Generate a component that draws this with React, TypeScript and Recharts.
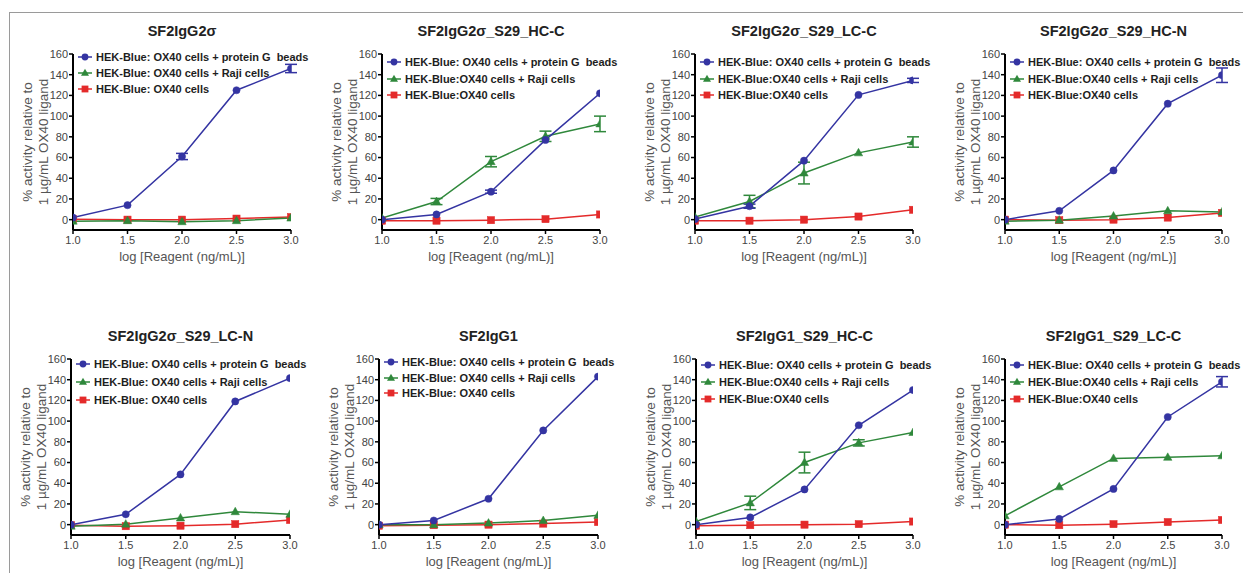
import React from 'react';
import { LineChart, Line, XAxis, YAxis, ErrorBar, Legend } from 'recharts';

const FONT = '"Liberation Sans", Arial, Helvetica, sans-serif';

const BLUE = '#3434a2';
const GREEN = '#2f883b';
const RED = '#e42a2a';

const X_VALUES = [1.0, 1.5, 2.0, 2.5, 3.0];
const X_TICKS = [1.0, 1.5, 2.0, 2.5, 3.0];
const Y_TICKS = [0, 20, 40, 60, 80, 100, 120, 140, 160];

const TITLES = [
  'SF2IgG2σ',
  'SF2IgG2σ_S29_HC-C',
  'SF2IgG2σ_S29_LC-C',
  'SF2IgG2σ_S29_HC-N',
  'SF2IgG2σ_S29_LC-N',
  'SF2IgG1',
  'SF2IgG1_S29_HC-C',
  'SF2IgG1_S29_LC-C',
];

const LABEL_BEADS = 'HEK-Blue: OX40 cells + protein G  beads';
const LABEL_RAJI_SPACED = 'HEK-Blue: OX40 cells + Raji cells';
const LABEL_RAJI_TIGHT = 'HEK-Blue:OX40 cells + Raji cells';
const LABEL_CELLS_SPACED = 'HEK-Blue: OX40 cells';
const LABEL_CELLS_TIGHT = 'HEK-Blue:OX40 cells';

// Panel 1: SF2IgG2σ
const p1Beads = [2, 14, 61, 125, 146];
const p1BeadsErr = [0, 0, 3, 0, 4];
const p1Raji = [-1.5, -1, -2, -1, 1.5];
const p1RajiErr = [0, 0, 0, 0, 0];
const p1Cells = [0.5, 0, 0, 1, 2.5];

// Panel 2: SF2IgG2σ_S29_HC-C
const p2Beads = [0, 5, 27, 77, 122];
const p2BeadsErr = [0, 0, 1.5, 0, 0];
const p2Raji = [1.5, 17.5, 56, 80.5, 92.5];
const p2RajiErr = [0, 3, 5, 5, 7.5];
const p2Cells = [-1, -1, -0.5, 0.5, 5];

// Panel 3: SF2IgG2σ_S29_LC-C
const p3Beads = [0.5, 13, 57, 120.5, 134.5];
const p3BeadsErr = [0, 2, 0, 0, 2];
const p3Raji = [2.5, 17.5, 45, 64.5, 75];
const p3RajiErr = [0, 6, 10.5, 0, 5];
const p3Cells = [-1, -1, 0, 3, 9.5];

// Panel 4: SF2IgG2σ_S29_HC-N
const p4Beads = [0, 8.5, 47.5, 112, 139.5];
const p4BeadsErr = [0, 0, 0, 0, 7];
const p4Raji = [-1.5, -0.5, 3.5, 8.5, 7.5];
const p4RajiErr = [0, 0, 0, 0, 0];
const p4Cells = [0, -0.5, 0, 2, 6.5];

// Panel 5: SF2IgG2σ_S29_LC-N
const p5Beads = [0, 10, 48.5, 119, 141.5];
const p5BeadsErr = [0, 0, 0, 0, 0];
const p5Raji = [-1.5, 0.5, 6.5, 12.5, 10];
const p5RajiErr = [0, 0, 0, 0, 0];
const p5Cells = [-0.5, -1.5, -1, 0.5, 4.5];

// Panel 6: SF2IgG1
const p6Beads = [0, 4, 25, 91, 143];
const p6BeadsErr = [0, 0, 0, 0, 0];
const p6Raji = [0, 0, 1.5, 4, 9];
const p6RajiErr = [0, 0, 0, 0, 0];
const p6Cells = [-1, -0.5, 0, 1, 2.5];

// Panel 7: SF2IgG1_S29_HC-C
const p7Beads = [0, 7, 34, 96, 130];
const p7BeadsErr = [0, 0, 0, 0, 0];
const p7Raji = [3, 21, 60, 79, 89];
const p7RajiErr = [0, 6.5, 10, 3, 0];
const p7Cells = [-1, -0.5, 0, 0.5, 3];

// Panel 8: SF2IgG1_S29_LC-C
const p8Beads = [0, 5.5, 34.5, 104, 138];
const p8BeadsErr = [0, 0, 0, 0, 5];
const p8Raji = [8.5, 36.5, 64, 65, 66.5];
const p8RajiErr = [0, 0, 0, 0, 0];
const p8Cells = [0, -0.5, 0.5, 2.5, 4.5];

const PANEL_DATA = [
  { beads: p1Beads, beadsErr: p1BeadsErr, raji: p1Raji, rajiErr: p1RajiErr, cells: p1Cells, tight: false },
  { beads: p2Beads, beadsErr: p2BeadsErr, raji: p2Raji, rajiErr: p2RajiErr, cells: p2Cells, tight: true },
  { beads: p3Beads, beadsErr: p3BeadsErr, raji: p3Raji, rajiErr: p3RajiErr, cells: p3Cells, tight: true },
  { beads: p4Beads, beadsErr: p4BeadsErr, raji: p4Raji, rajiErr: p4RajiErr, cells: p4Cells, tight: true },
  { beads: p5Beads, beadsErr: p5BeadsErr, raji: p5Raji, rajiErr: p5RajiErr, cells: p5Cells, tight: false },
  { beads: p6Beads, beadsErr: p6BeadsErr, raji: p6Raji, rajiErr: p6RajiErr, cells: p6Cells, tight: false },
  { beads: p7Beads, beadsErr: p7BeadsErr, raji: p7Raji, rajiErr: p7RajiErr, cells: p7Cells, tight: true },
  { beads: p8Beads, beadsErr: p8BeadsErr, raji: p8Raji, rajiErr: p8RajiErr, cells: p8Cells, tight: true },
];

// layout (positions only)
const LAYOUT = [
  { left: 0, top: 0, plotW: 218, legTop: 3, legGap: 16 },
  { left: 309, top: 0, plotW: 218, legTop: 8, legGap: 16.5 },
  { left: 622, top: 0, plotW: 218, legTop: 8, legGap: 16.5 },
  { left: 932, top: 0, plotW: 217, legTop: 8, legGap: 16.5 },
  { left: -2, top: 305, plotW: 219, legTop: 5, legGap: 18 },
  { left: 306, top: 305, plotW: 219, legTop: 3, legGap: 15.5 },
  { left: 623, top: 305, plotW: 217, legTop: 6, legGap: 17 },
  { left: 932, top: 305, plotW: 217, legTop: 6, legGap: 17 },
];

const Y_AXIS_W = 73;
const CHART_H = 280;
const MARGIN_TOP = 54;
const MARGIN_RIGHT = 15;
const X_AXIS_H = 50;

const circleDot = (color: string) => (props: any) => {
  const { cx, cy, index } = props;
  if (cx == null || cy == null) return <g key={`c-${index}`} />;
  return <circle key={`c-${index}`} cx={cx} cy={cy} r={3.6} fill={color} stroke={color} strokeWidth={0.5} />;
};
const triDot = (color: string) => (props: any) => {
  const { cx, cy, index } = props;
  if (cx == null || cy == null) return <g key={`t-${index}`} />;
  return (
    <polygon
      key={`t-${index}`}
      points={`${cx},${cy - 4.5} ${cx - 4.2},${cy + 3} ${cx + 4.2},${cy + 3}`}
      fill={color}
      stroke={color}
      strokeWidth={0.5}
    />
  );
};
const squareDot = (color: string) => (props: any) => {
  const { cx, cy, index } = props;
  if (cx == null || cy == null) return <g key={`s-${index}`} />;
  return <rect key={`s-${index}`} x={cx - 3.6} y={cy - 3.6} width={7.2} height={7.2} fill={color} stroke={color} strokeWidth={0.5} />;
};

function LegendMarker({ kind, color }: { kind: string; color: string }) {
  return (
    <svg width={20} height={16} style={{ display: 'block', flex: '0 0 auto' }}>
      <line x1={4} y1={8} x2={18} y2={8} stroke={color} strokeWidth={1.5} />
      {kind === 'circle' && <circle cx={11} cy={8} r={3.4} fill={color} />}
      {kind === 'tri' && <polygon points={`11,3.8 7,10.8 15,10.8`} fill={color} />}
      {kind === 'square' && <rect x={7.6} y={4.6} width={6.8} height={6.8} fill={color} />}
    </svg>
  );
}

function Panel({ idx }: { idx: number }) {
  const d = PANEL_DATA[idx];
  const lay = LAYOUT[idx];
  const rows = X_VALUES.map((x, i) => ({
    x,
    beads: d.beads[i],
    beadsErr: d.beadsErr[i],
    raji: d.raji[i],
    rajiErr: d.rajiErr[i],
    cells: d.cells[i],
  }));
  const chartW = Y_AXIS_W + lay.plotW + MARGIN_RIGHT;
  const legendItems = [
    { label: LABEL_BEADS, kind: 'circle', color: BLUE },
    { label: d.tight ? LABEL_RAJI_TIGHT : LABEL_RAJI_SPACED, kind: 'tri', color: GREEN },
    { label: d.tight ? LABEL_CELLS_TIGHT : LABEL_CELLS_SPACED, kind: 'square', color: RED },
  ];

  const renderLegend = () => (
    <div style={{ position: 'relative', fontFamily: FONT, fontWeight: 700, fontSize: 11, color: '#1e1e1e' }}>
      {legendItems.map((it, i) => (
        <div
          key={i}
          style={{
            position: 'absolute',
            left: 0,
            top: lay.legTop + i * lay.legGap - 8,
            height: 16,
            display: 'flex',
            alignItems: 'center',
            whiteSpace: 'pre',
            lineHeight: '16px',
          }}
        >
          <LegendMarker kind={it.kind} color={it.color} />
          <span style={{ marginLeft: 2 }}>{it.label}</span>
        </div>
      ))}
    </div>
  );

  const renderYLabel = (props: any) => {
    const vb = props.viewBox || {};
    const cy = vb.y + vb.height / 2;
    const x1 = vb.x + 32;
    const x2 = vb.x + 48;
    return (
      <g>
        <text x={x1} y={cy} transform={`rotate(-90 ${x1} ${cy})`} textAnchor="middle" fontSize={13.5} fill="#555" fontFamily={FONT}>
          % activity relative to
        </text>
        <text x={x2} y={cy} transform={`rotate(-90 ${x2} ${cy})`} textAnchor="middle" fontSize={13.5} fill="#555" fontFamily={FONT}>
          1 µg/mL OX40 ligand
        </text>
      </g>
    );
  };

  const renderXLabel = (props: any) => {
    const vb = props.viewBox || {};
    return (
      <text x={vb.x + vb.width / 2} y={vb.y + 31} textAnchor="middle" fontSize={13} fill="#555" fontFamily={FONT}>
        log [Reagent (ng/mL)]
      </text>
    );
  };

  return (
    <div style={{ position: 'absolute', left: lay.left, top: lay.top, width: chartW, height: CHART_H }}>
      <div
        style={{
          position: 'absolute',
          left: Y_AXIS_W - 20,
          width: lay.plotW + 40,
          top: 22,
          textAlign: 'center',
          fontFamily: FONT,
          fontWeight: 700,
          fontSize: 14.5,
          lineHeight: '18px',
          color: '#222',
          whiteSpace: 'nowrap',
        }}
      >
        {TITLES[idx]}
      </div>
      <LineChart
        width={chartW}
        height={CHART_H}
        data={rows}
        margin={{ top: MARGIN_TOP, right: MARGIN_RIGHT, bottom: 0, left: 0 }}
        style={{ position: 'absolute', left: 0, top: 0 }}
      >
        <XAxis
          type="number"
          dataKey="x"
          domain={[1, 3]}
          ticks={X_TICKS}
          allowDataOverflow
          tickFormatter={(v: number) => v.toFixed(1)}
          height={X_AXIS_H}
          axisLine={{ stroke: '#000', strokeWidth: 2 }}
          tickLine={{ stroke: '#000', strokeWidth: 1.5 }}
          tickSize={4}
          tick={{ fill: '#444', fontSize: 11, fontFamily: FONT }}
          label={{ content: renderXLabel }}
        />
        <YAxis
          type="number"
          domain={[-10, 160]}
          ticks={Y_TICKS}
          allowDataOverflow
          width={Y_AXIS_W}
          axisLine={{ stroke: '#000', strokeWidth: 2 }}
          tickLine={{ stroke: '#000', strokeWidth: 1.5 }}
          tickSize={4}
          tickMargin={1}
          tick={{ fill: '#444', fontSize: 11, fontFamily: FONT }}
          label={{ content: renderYLabel }}
        />
        <Legend
          layout="vertical"
          align="center"
          verticalAlign="middle"
          wrapperStyle={{ left: Y_AXIS_W + 1, top: MARGIN_TOP, width: 230, height: 60 }}
          content={renderLegend}
        />
        <Line
          type="linear"
          dataKey="cells"
          stroke={RED}
          strokeWidth={1.5}
          dot={squareDot(RED)}
          activeDot={false}
          isAnimationActive={false}
        />
        <Line
          type="linear"
          dataKey="raji"
          stroke={GREEN}
          strokeWidth={1.5}
          dot={triDot(GREEN)}
          activeDot={false}
          isAnimationActive={false}
        >
          <ErrorBar dataKey="rajiErr" direction="y" width={6} stroke={GREEN} strokeWidth={1.5} />
        </Line>
        <Line
          type="linear"
          dataKey="beads"
          stroke={BLUE}
          strokeWidth={1.5}
          dot={circleDot(BLUE)}
          activeDot={false}
          isAnimationActive={false}
        >
          <ErrorBar dataKey="beadsErr" direction="y" width={6} stroke={BLUE} strokeWidth={1.5} />
        </Line>
      </LineChart>
    </div>
  );
}

export default function App() {
  return (
    <div style={{ position: 'absolute', left: 0, top: 0, width: 1243, height: 573, background: '#fff', overflow: 'hidden' }}>
      <div style={{ position: 'absolute', left: 9, top: 12, width: 1234, height: 1, background: '#9a9a9a' }} />
      <div style={{ position: 'absolute', left: 9, top: 12, width: 1, height: 561, background: '#9a9a9a' }} />
      {PANEL_DATA.map((_, i) => (
        <Panel key={i} idx={i} />
      ))}
    </div>
  );
}
